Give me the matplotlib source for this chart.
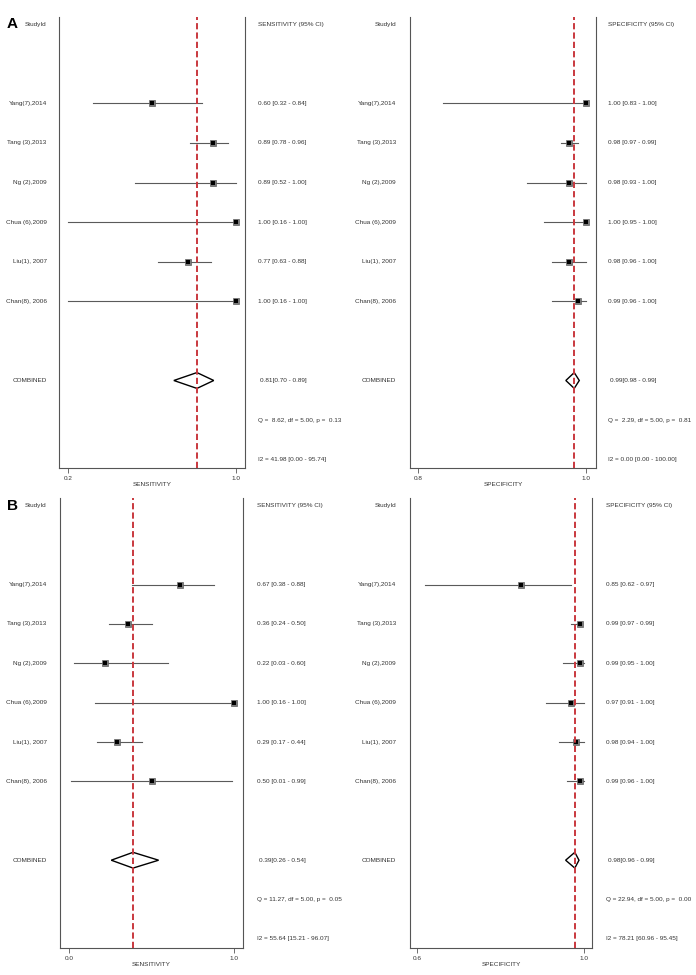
import matplotlib
matplotlib.use("Agg")
import matplotlib.pyplot as plt
from matplotlib.patches import Polygon

plt.rcParams['font.family'] = ['Liberation Sans', 'DejaVu Sans']

# ---------------- data ----------------
studies = ["Yang(7),2014", "Tang (3),2013", "Ng (2),2009", "Chua (6),2009",
           "Liu(1), 2007", "Chan(8), 2006"]

sens_A_est = [0.60, 0.89, 0.89, 1.00, 0.77, 1.00]
sens_A_lo = [0.32, 0.78, 0.52, 0.16, 0.63, 0.16]
sens_A_hi = [0.84, 0.96, 1.00, 1.00, 0.88, 1.00]
sens_A_comb = [0.814, 0.704, 0.894]
sens_A_Q = [8.62, 5.00, 0.13]
sens_A_I2 = [41.98, 0.00, 95.74]

spec_A_est = [1.00, 0.98, 0.98, 1.00, 0.98, 0.99]
spec_A_lo = [0.83, 0.97, 0.93, 0.95, 0.96, 0.96]
spec_A_hi = [1.00, 0.99, 1.00, 1.00, 1.00, 1.00]
spec_A_comb = [0.986, 0.976, 0.992]
spec_A_Q = [2.29, 5.00, 0.81]
spec_A_I2 = [0.00, 0.00, 100.00]

sens_B_est = [0.67, 0.36, 0.22, 1.00, 0.29, 0.50]
sens_B_lo = [0.38, 0.24, 0.03, 0.16, 0.17, 0.01]
sens_B_hi = [0.88, 0.50, 0.60, 1.00, 0.44, 0.99]
sens_B_comb = [0.388, 0.256, 0.543]
sens_B_Q = [11.27, 5.00, 0.05]
sens_B_I2 = [55.64, 15.21, 96.07]

spec_B_est = [0.85, 0.99, 0.99, 0.97, 0.98, 0.99]
spec_B_lo = [0.62, 0.97, 0.95, 0.91, 0.94, 0.96]
spec_B_hi = [0.97, 0.99, 1.00, 1.00, 1.00, 1.00]
spec_B_comb = [0.978, 0.956, 0.988]
spec_B_Q = [22.94, 5.00, 0.00]
spec_B_I2 = [78.21, 60.96, 95.45]

sens_A_ticks = [0.2, 1.0]
spec_A_ticks = [0.8, 1.0]
sens_B_ticks = [0.0, 1.0]
spec_B_ticks = [0.6, 1.0]

# ---------------- layout ----------------
W, H, DPI = 696, 975, 100
fig = plt.figure(figsize=(W / DPI, H / DPI), dpi=DPI, facecolor='white')

FS = 4.6
TXT = '#333333'
GRAY = '#555555'

study_rows = [2, 3, 4, 5, 6, 7]
comb_row, q_row, i2_row = 9, 10, 11


def panel(left, right, top, bottom, tick_px, ticks, est, lo, hi, comb, Q, I2,
          measure, label_px, stats_px, ylim):
    ax = fig.add_axes([left / W, 1 - bottom / H, (right - left) / W, (bottom - top) / H])
    scale = (tick_px[1] - tick_px[0]) / (ticks[1] - ticks[0])
    ax.set_xlim(ticks[0] - (tick_px[0] - left) / scale, ticks[1] + (right - tick_px[1]) / scale)
    ax.set_ylim(*ylim)
    xmin, xmax = ticks[0], ticks[1]

    for r, e, l, h in zip(study_rows, est, lo, hi):
        ax.plot([max(l, xmin), min(h, xmax)], [r, r], color='#5a5a5a', lw=0.8, zorder=2)
        ax.plot([e], [r], marker='s', ms=5.0, mfc='#7a7a7a', mec='#5e5e5e', mew=0.5, zorder=3)
        ax.plot([e], [r], marker='s', ms=2.4, mfc='black', mec='black', mew=0, zorder=4)

    c, cl, ch = comb
    hh = 0.2
    ax.add_patch(Polygon([(cl, comb_row), (c, comb_row - hh), (ch, comb_row), (c, comb_row + hh)],
                         closed=True, fill=False, ec='black', lw=1.0, zorder=3))
    ax.axvline(c, color='#c9383e', lw=1.4, dashes=(3.2, 1.6), zorder=5)

    ax.spines['top'].set_visible(False)
    for s in ['left', 'right', 'bottom']:
        ax.spines[s].set_color(GRAY)
        ax.spines[s].set_linewidth(0.8)
    ax.set_yticks([])
    ax.set_xticks(ticks)
    ax.set_xticklabels(['%.1f' % t for t in ticks])
    ax.tick_params(axis='x', direction='out', length=3.6, width=0.6, color=GRAY,
                   labelsize=FS, labelcolor=TXT, pad=2.2)
    ax.set_xlabel(measure, fontsize=FS, color=TXT, labelpad=0.5)

    tr = ax.get_yaxis_transform()
    fx = lambda px: (px - left) / (right - left)
    ax.text(fx(label_px), 0, 'StudyId', transform=tr, ha='right', va='center', fontsize=FS, color=TXT)
    ax.text(fx(stats_px), 0, '%s (95%% CI)' % measure, transform=tr, ha='left', va='center',
            fontsize=FS, color=TXT)
    for r, name, e, l, h in zip(study_rows, studies, est, lo, hi):
        ax.text(fx(label_px), r, name, transform=tr, ha='right', va='center', fontsize=FS, color=TXT)
        ax.text(fx(stats_px), r, '%.2f [%.2f - %.2f]' % (e, l, h), transform=tr, ha='left',
                va='center', fontsize=FS, color=TXT)
    ax.text(fx(label_px), comb_row, 'COMBINED', transform=tr, ha='right', va='center',
            fontsize=FS, color=TXT)
    ax.text(fx(stats_px + 2), comb_row, '%.2f[%.2f - %.2f]' % (c, cl, ch), transform=tr,
            ha='left', va='center', fontsize=FS, color=TXT)
    ax.text(fx(stats_px), q_row, 'Q = %5.2f, df = %.2f, p = %5.2f' % tuple(Q), transform=tr,
            ha='left', va='center', fontsize=FS, color=TXT)
    ax.text(fx(stats_px), i2_row, 'I2 = %.2f [%.2f - %.2f]' % tuple(I2), transform=tr,
            ha='left', va='center', fontsize=FS, color=TXT)
    return ax


ylimA = (11.21, -0.18)
ylimB = (11.23, -0.2)

panel(59, 245, 17, 468, (68, 236), sens_A_ticks, sens_A_est, sens_A_lo, sens_A_hi,
      sens_A_comb, sens_A_Q, sens_A_I2, 'SENSITIVITY', 46.7, 258, ylimA)
panel(410, 596, 17, 468, (418, 586), spec_A_ticks, spec_A_est, spec_A_lo, spec_A_hi,
      spec_A_comb, spec_A_Q, spec_A_I2, 'SPECIFICITY', 396, 608, ylimA)
panel(60, 243, 498, 948, (69, 234), sens_B_ticks, sens_B_est, sens_B_lo, sens_B_hi,
      sens_B_comb, sens_B_Q, sens_B_I2, 'SENSITIVITY', 46.7, 257, ylimB)
panel(410, 592, 498, 948, (417, 584), spec_B_ticks, spec_B_est, spec_B_lo, spec_B_hi,
      spec_B_comb, spec_B_Q, spec_B_I2, 'SPECIFICITY', 396, 606, ylimB)

fig.text(7 / W, 1 - 24 / H, 'A', fontsize=11, fontweight='bold', ha='left', va='center', color='black')
fig.text(7 / W, 1 - 506 / H, 'B', fontsize=11, fontweight='bold', ha='left', va='center', color='black')

fig.savefig('out.png', dpi=DPI, facecolor='white')
